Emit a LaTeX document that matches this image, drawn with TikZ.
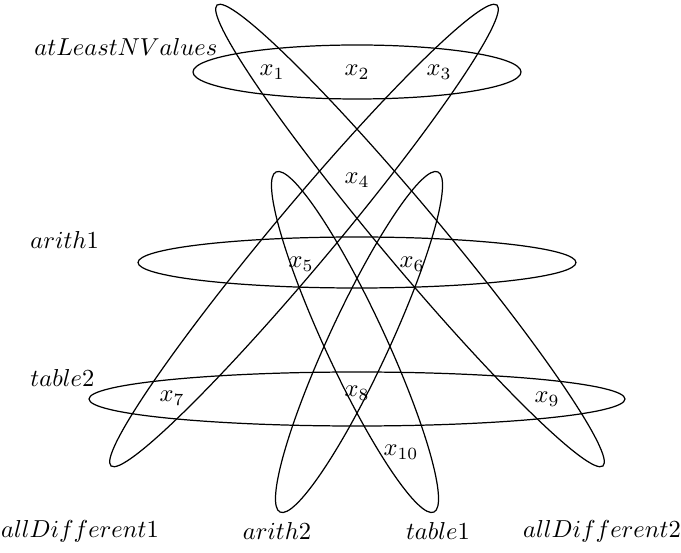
\documentclass[tikz,border=0pt]{standalone}
\begin{document}
\begin{tikzpicture}[x=0.408pt,y=0.408pt,
  hedge/.style={draw=black,line width=0.5pt},
  var/.style={inner sep=0pt},
  lbl/.style={inner sep=0pt}]
\useasboundingbox (0,0) rectangle (681,-553);
% horizontal hyperedges
\draw[hedge] (357,-72) ellipse [x radius=164, y radius=27];
\draw[hedge] (357,-262.5) ellipse [x radius=219, y radius=25.5];
\draw[hedge] (357,-399) ellipse [x radius=268, y radius=27];
% tilted hyperedges
\draw[hedge,rotate around={-50.06:(410,-235.5)}] (410,-235.5) ellipse [x radius=300.6, y radius=30];
\draw[hedge,rotate around={50.06:(304,-235.5)}] (304,-235.5) ellipse [x radius=300.6, y radius=30];
\draw[hedge,rotate around={65.1:(359,-342)}] (359,-342) ellipse [x radius=187.5, y radius=30];
\draw[hedge,rotate around={-65.1:(355,-342)}] (355,-342) ellipse [x radius=187.5, y radius=30];
% variables
\node[var] (x1) at (272,-72) {$x_1$};
\node[var] (x2) at (357,-72) {$x_2$};
\node[var] (x3) at (439,-72) {$x_3$};
\node[var] (x4) at (357,-180) {$x_4$};
\node[var] (x5) at (301,-264) {$x_5$};
\node[var] (x6) at (412,-264) {$x_6$};
\node[var] (x7) at (172,-398) {$x_7$};
\node[var] (x8) at (357,-393) {$x_8$};
\node[var] (x9) at (547,-399) {$x_9$};
\node[var] (x10) at (401,-452) {$x_{10}$};
% hyperedge labels
\node[lbl,anchor=west] (lA) at (34,-47) {$atLeastNValues$};
\node[lbl,anchor=west] (lB) at (30,-240) {$arith1$};
\node[lbl,anchor=west] (lC) at (30,-378) {$table2$};
\node[lbl] (lD) at (80,-531) {$allDifferent1$};
\node[lbl] (lE) at (277,-531) {$arith2$};
\node[lbl] (lF) at (438,-531) {$table1$};
\node[lbl] (lG) at (602,-531) {$allDifferent2$};
\end{tikzpicture}
\end{document}
